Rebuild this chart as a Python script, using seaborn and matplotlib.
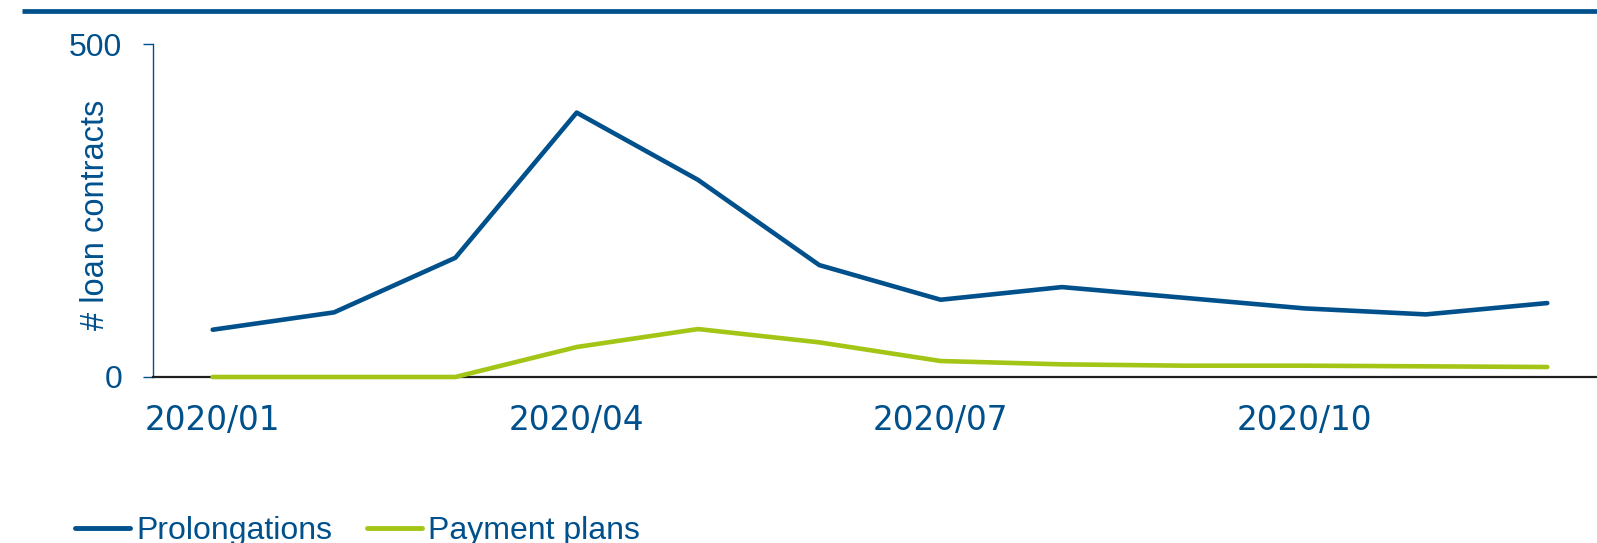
import matplotlib
matplotlib.use("Agg")
import matplotlib.pyplot as plt
from matplotlib.lines import Line2D
import pandas as pd
import seaborn as sns

# Monthly counts of loan contracts with forbearance measures, 2020
months = ["2020/01", "2020/02", "2020/03", "2020/04", "2020/05", "2020/06",
          "2020/07", "2020/08", "2020/09", "2020/10", "2020/11", "2020/12"]
prolongations = [71, 97, 179, 397, 296, 168, 116, 135, 119, 103, 94, 111]
payment_plans = [0, 0, 0, 45, 72, 52, 24, 19, 17, 17, 16, 15]
series_names = ["Prolongations", "Payment plans"]
tick_months = ["2020/01", "2020/04", "2020/07", "2020/10"]
y_ticks = [0, 500]

BLUE = "#00508C"
GREEN = "#A2C516"

df = pd.DataFrame({
    "month": months * 2,
    "contracts": prolongations + payment_plans,
    "series": [series_names[0]] * len(months) + [series_names[1]] * len(months),
})

sns.set_style("white")
plt.rcParams["font.family"] = ["Liberation Sans", "DejaVu Sans"]

W, H = 1597, 543
fig = plt.figure(figsize=(W / 100, H / 100), dpi=100)
ax = fig.add_axes([153 / W, 1 - 377 / H, 1 - 153 / W, 333 / H])

sns.lineplot(data=df, x="month", y="contracts", hue="series",
             palette={series_names[0]: BLUE, series_names[1]: GREEN},
             linewidth=3.3, ax=ax, legend=False, sort=False)
for ln in ax.lines:
    ln.set_clip_on(False)
    ln.set_zorder(4)
    ln.set_solid_capstyle("round")

ax.set_xlim(-0.492, 11.41)
ax.set_ylim(0, 500)
ax.set_yticks(y_ticks)
ax.set_xticks([months.index(m) for m in tick_months])
ax.set_xticklabels(tick_months)
ax.set_xlabel("")
ax.set_ylabel("# loan contracts", fontsize=23.5, color=BLUE, va="center")
ax.yaxis.set_label_coords(-0.0400, 0.486)

for lbl in ax.get_xticklabels():
    lbl.set_fontfamily("DejaVu Sans")
    lbl.set_fontsize(23.6)
    lbl.set_color(BLUE)
for lbl in ax.get_yticklabels():
    lbl.set_fontsize(23)
    lbl.set_color(BLUE)

ax.tick_params(axis="x", length=0, pad=19.5)
ax.tick_params(axis="y", length=7.2, width=1.0, color=BLUE, pad=15.0, left=True)

for side in ["top", "right"]:
    ax.spines[side].set_visible(False)
ax.spines["left"].set_color(BLUE)
ax.spines["left"].set_linewidth(1.0)
ax.spines["bottom"].set_color("#1e1e1e")
ax.spines["bottom"].set_linewidth(1.6)
ax.grid(False)

# Banner rule across the top
fig.add_artist(Line2D([22 / W, 1.0], [1 - 11 / H, 1 - 11 / H],
                      color=BLUE, linewidth=3.4, solid_capstyle="butt",
                      transform=fig.transFigure))

handles = [Line2D([], [], color=BLUE, linewidth=3.5, solid_capstyle="round"),
           Line2D([], [], color=GREEN, linewidth=3.5, solid_capstyle="round")]
leg = fig.legend(handles, series_names, loc="center left",
                 bbox_to_anchor=(75 / W, 1 - 531 / H), ncol=2, frameon=False,
                 fontsize=23, handlelength=1.72, handletextpad=0.19,
                 columnspacing=1.09, borderpad=0, borderaxespad=0)
for t in leg.get_texts():
    t.set_color(BLUE)

fig.savefig("out.png", dpi=100)
